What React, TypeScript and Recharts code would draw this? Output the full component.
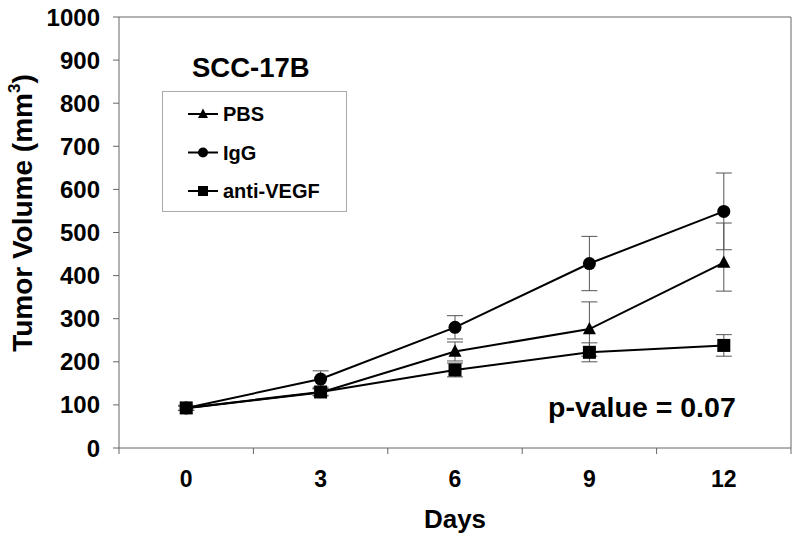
import React from 'react';
import { LineChart, Line, XAxis, YAxis, ErrorBar, Legend, ReferenceLine } from 'recharts';

const days = [0, 3, 6, 9, 12];
const pbs = [92, 129, 224, 276, 430];
const pbsErr: [number, number][] = [[5, 5], [8, 8], [22, 22], [63, 63], [66, 92]];
const igg = [93, 160, 280, 428, 549];
const iggErr: [number, number][] = [[5, 5], [19, 19], [27, 27], [63, 63], [89, 89]];
const antiVegf = [93, 130, 181, 222, 238];
const antiErr: [number, number][] = [[6, 6], [8, 8], [16, 16], [22, 22], [25, 25]];
const seriesNames = ['PBS', 'IgG', 'anti-VEGF'];
const yTicks = [0, 100, 200, 300, 400, 500, 600, 700, 800, 900, 1000];
const xBoundaries = [-1.5, 1.5, 4.5, 7.5, 10.5, 13.5];
const title = 'SCC-17B';
const pText = 'p-value = 0.07';

const data = days.map((d, i) => ({
  day: d,
  pbs: pbs[i],
  pbsErr: pbsErr[i],
  igg: igg[i],
  iggErr: iggErr[i],
  anti: antiVegf[i],
  antiErr: antiErr[i],
}));

const xTicks = [...xBoundaries, ...days].sort((a, b) => a - b);

const FONT = '"Liberation Sans", Arial, sans-serif';

const Marker = ({ kind, cx, cy, s }: { kind: string; cx: number; cy: number; s: number }) => {
  if (kind === 'triangle') {
    const h = s * 0.95;
    return <polygon points={`${cx},${cy - h * 0.58} ${cx - s / 2},${cy + h * 0.42} ${cx + s / 2},${cy + h * 0.42}`} fill="#000" />;
  }
  if (kind === 'circle') return <circle cx={cx} cy={cy} r={s / 2} fill="#000" />;
  return <rect x={cx - s / 2} y={cy - s / 2} width={s} height={s} fill="#000" />;
};

const makeDot = (kind: string) => (props: any) => {
  const { cx, cy, index } = props;
  if (cx == null || cy == null) return <g key={`${kind}-${index}`} />;
  return (
    <g key={`${kind}-${index}`}>
      <Marker kind={kind} cx={cx} cy={cy} s={13} />
    </g>
  );
};

const kinds = ['triangle', 'circle', 'square'];

const XTick = (props: any) => {
  const { x, y, payload } = props;
  const v = payload.value;
  if (xBoundaries.includes(v)) {
    return <line x1={x} y1={y} x2={x} y2={y + 6} stroke="#666" strokeWidth={1} />;
  }
  return (
    <text x={x} y={y + 39} textAnchor="middle" fontFamily={FONT} fontWeight="bold" fontSize={23} fill="#000">
      {v}
    </text>
  );
};

const YLabel = () => (
  <text
    transform="translate(32, 213) rotate(-90)"
    textAnchor="middle"
    fontFamily={FONT}
    fontWeight="bold"
    fontSize={28}
    fill="#000"
  >
    Tumor Volume (mm
    <tspan fontSize={17} dy={-12}>3</tspan>
    <tspan dy={12}>)</tspan>
  </text>
);

const renderLegend = () => (
  <svg width={185} height={121} style={{ display: 'block' }}>
    {seriesNames.map((name, i) => {
      const base = 29 + i * 38.5;
      const cy = base - 7;
      return (
        <g key={name}>
          <line x1={25} y1={cy} x2={55} y2={cy} stroke="#000" strokeWidth={2} />
          <Marker kind={kinds[i]} cx={40} cy={cy} s={10} />
          <text x={60} y={base} fontFamily={FONT} fontWeight="bold" fontSize={20} fill="#000">
            {name}
          </text>
        </g>
      );
    })}
  </svg>
);

export default function App() {
  return (
    <div style={{ position: 'absolute', left: 0, top: 0, width: 800, height: 540, background: '#fff' }}>
      <LineChart width={800} height={540} data={data} margin={{ top: 17, right: 9, left: 0, bottom: 0 }}>
        <XAxis
          dataKey="day"
          type="number"
          domain={[-1.5, 13.5]}
          ticks={xTicks}
          interval={0}
          tickSize={0}
          tickMargin={0}
          tickLine={false}
          tick={<XTick />}
          height={92}
          stroke="#666"
          allowDataOverflow
          label={{
            value: 'Days',
            position: 'insideBottom',
            offset: 12,
            style: { fontFamily: FONT, fontWeight: 'bold', fontSize: 26, fill: '#000' },
          }}
        />
        <YAxis
          type="number"
          domain={[0, 1000]}
          ticks={yTicks}
          interval={0}
          width={119}
          tickSize={6}
          tickMargin={13}
          stroke="#666"
          tick={{ fontFamily: FONT, fontWeight: 'bold', fontSize: 24, fill: '#000' }}
          label={<YLabel />}
        />
        <ReferenceLine y={1000} stroke="#666" strokeWidth={1} ifOverflow="visible" />
        <ReferenceLine x={13.5} stroke="#666" strokeWidth={1} ifOverflow="visible" />
        <Legend
          layout="vertical"
          align="center"
          verticalAlign="middle"
          content={renderLegend}
          wrapperStyle={{ left: 162, top: 91, width: 185, height: 121, border: '1px solid #aaa', boxSizing: 'border-box', background: '#fff' }}
        />
        <Line dataKey="pbs" name="PBS" stroke="#000" strokeWidth={2} dot={makeDot('triangle')} isAnimationActive={false}>
          <ErrorBar dataKey="pbsErr" width={8} stroke="#555" strokeWidth={1} direction="y" />
        </Line>
        <Line dataKey="igg" name="IgG" stroke="#000" strokeWidth={2} dot={makeDot('circle')} isAnimationActive={false}>
          <ErrorBar dataKey="iggErr" width={8} stroke="#555" strokeWidth={1} direction="y" />
        </Line>
        <Line dataKey="anti" name="anti-VEGF" stroke="#000" strokeWidth={2} dot={makeDot('square')} isAnimationActive={false}>
          <ErrorBar dataKey="antiErr" width={8} stroke="#555" strokeWidth={1} direction="y" />
        </Line>
      </LineChart>
      <svg width={800} height={540} style={{ position: 'absolute', left: 0, top: 0, pointerEvents: 'none' }}>
        <text x={192} y={77} fontFamily={FONT} fontWeight="bold" fontSize={27.5} fill="#000">{title}</text>
        <text x={548} y={417} fontFamily={FONT} fontWeight="bold" fontSize={28.5} fill="#000">{pText}</text>
      </svg>
    </div>
  );
}
